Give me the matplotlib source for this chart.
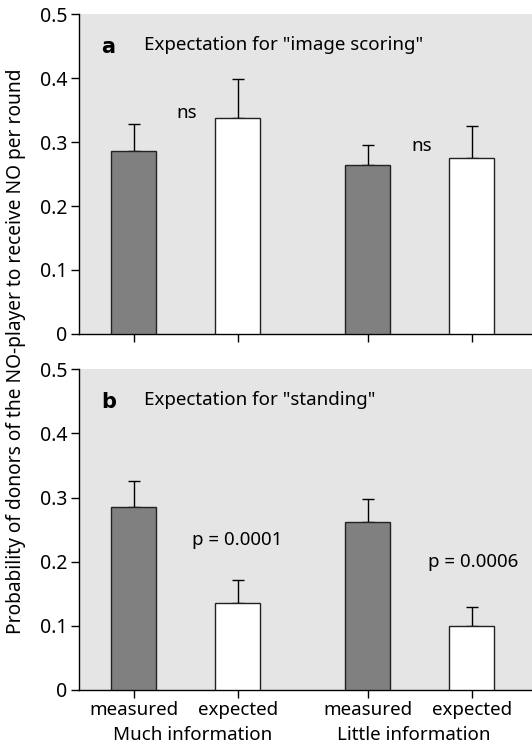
import matplotlib.pyplot as plt

# bar positions: two groups of measured / expected
xpos = [0, 1, 2.25, 3.25]
ticklabels = ['measured', 'expected', 'measured', 'expected']
groups = ['Much information', 'Little information']

# panel a: expectation for image scoring
a_vals = [0.286, 0.337, 0.264, 0.275]
a_err = [0.042, 0.061, 0.032, 0.050]
# panel b: expectation for standing
b_vals = [0.285, 0.135, 0.262, 0.100]
b_err = [0.041, 0.037, 0.035, 0.030]

bar_colors = ['#808080', 'white', '#808080', 'white']

plt.rcParams['font.family'] = ['Noto Sans', 'DejaVu Sans']
plt.rcParams['font.size'] = 13.5

fig = plt.figure(figsize=(5.32, 7.46), dpi=100)
axA = fig.add_axes([0.148, 0.5523, 0.852, 0.4289])
axB = fig.add_axes([0.148, 0.0751, 0.852, 0.4299])

def draw_panel(ax, vals, errs, letter, title):
	ax.set_facecolor('#e5e5e5')
	ax.bar(xpos, vals, width=0.435, color=bar_colors, edgecolor='#222222', linewidth=1, zorder=3)
	ax.errorbar(xpos, vals, yerr=[[0]*len(errs), errs], fmt='none', ecolor='black',
		elinewidth=1, capsize=4.3, capthick=1, zorder=2)
	ax.set_xlim(-0.529, 3.83)
	ax.set_ylim(0, 0.5)
	ax.set_yticks([0, 0.1, 0.2, 0.3, 0.4, 0.5])
	ax.set_yticklabels(['0', '0.1', '0.2', '0.3', '0.4', '0.5'])
	ax.set_xticks(xpos)
	for s in ['top', 'right']:
		ax.spines[s].set_visible(False)
	ax.spines['left'].set_linewidth(1)
	ax.spines['bottom'].set_linewidth(1)
	ax.tick_params(direction='out', length=6, width=1, labelsize=14, pad=2)
	ax.text(-0.245, 0.449, letter, fontsize=15, fontweight='bold', family='DejaVu Sans',
		ha='center', va='center')
	ax.text(0.1, 0.452, title, fontsize=13.5, ha='left', va='center')

draw_panel(axA, a_vals, a_err, 'a', 'Expectation for "image scoring"')
axA.set_xticklabels([])
axA.text(0.51, 0.345, 'ns', ha='center', va='center')
axA.text(2.77, 0.294, 'ns', ha='center', va='center')

draw_panel(axB, b_vals, b_err, 'b', 'Expectation for "standing"')
axB.set_xticklabels(ticklabels, fontsize=13.5)
axB.text(1.0, 0.234, 'p = 0.0001', ha='center', va='center')
axB.text(3.26, 0.199, 'p = 0.0006', ha='center', va='center')
axB.text(0.57, -0.07, groups[0], ha='center', va='center', clip_on=False)
axB.text(2.69, -0.07, groups[1], ha='center', va='center', clip_on=False)

fig.text(0.03, 0.529, 'Probability of donors of the NO-player to receive NO per round',
	rotation=90, ha='center', va='center', fontsize=13.8)

fig.savefig('out.png', dpi=100)
